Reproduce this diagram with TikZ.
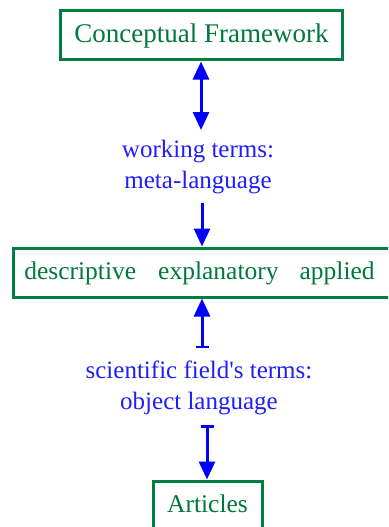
\documentclass[tikz,border=0pt]{standalone}
\usepackage{fontspec}
\setmainfont{Liberation Serif}[Ligatures=TeXOff]
\usetikzlibrary{arrows.meta}
\definecolor{boxgreen}{RGB}{0,128,64}
\definecolor{textgreen}{RGB}{0,120,60}
\definecolor{linkblue}{RGB}{0,0,255}
\definecolor{labelblue}{RGB}{30,30,250}
\tikzset{
  framebox/.style={draw=boxgreen, line width=3pt, fill=white, inner sep=0pt,
    text=textgreen, text height=18pt, text depth=5pt},
  termlabel/.style={text=labelblue, align=center, inner sep=0pt,
    font=\fontsize{25}{31}\selectfont},
  link/.style={draw=linkblue, line width=3pt},
  tip/.tip={Triangle[length=18pt,width=16pt]},
  stopbar/.tip={Bar[width=13pt,line width=2.5pt]}
}
\begin{document}
\begin{tikzpicture}[x=1pt,y=-1pt]
  \useasboundingbox (0,0) rectangle (388,527);
  \clip (0,0) rectangle (388,527);

  % boxes
  \node[framebox, minimum width=282pt, minimum height=49pt,
        font=\fontsize{27}{32}\selectfont] (frame) at (201.5,35.5)
        {Conceptual Framework};
  \node[framebox, minimum width=384pt, minimum height=49pt,
        font=\fontsize{25.5}{31}\selectfont] (kinds) at (205,272.5)
        {\hspace*{-3pt}descriptive\hspace{22pt}explanatory\hspace{21pt}applied\hspace*{8pt}};
  \node[framebox, minimum width=109pt, minimum height=49pt,
        font=\fontsize{25.5}{31}\selectfont] (art) at (207.5,505.5)
        {Articles};

  % labels between the boxes
  \node[termlabel] (meta) at (198,167) {working terms:\\meta-language};
  \node[termlabel] (obj) at (199,388) {scientific field's terms:\\object language};

  % free ends of the connectors
  \coordinate (e1) at (201,130);
  \coordinate (e2) at (202,203);
  \coordinate (e3) at (202,348);
  \coordinate (e4) at (207,425);

  % connectors
  \draw[link, {tip}-{tip}] (frame.south -| e1) -- (e1);
  \draw[link, -{tip}] (e2) -- (kinds.north -| e2);
  \draw[link, {tip}-{stopbar}] (kinds.south -| e3) -- (e3);
  \draw[link, {stopbar}-{tip}] (e4) -- (art.north -| e4);
\end{tikzpicture}
\end{document}
